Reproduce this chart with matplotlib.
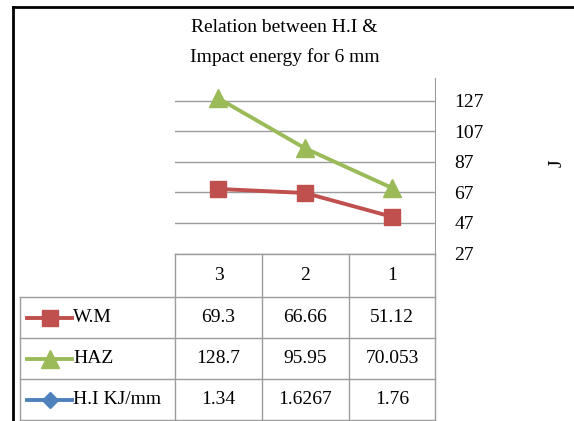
import matplotlib
matplotlib.use("Agg")
import matplotlib.pyplot as plt
from matplotlib.lines import Line2D

# chart data
categories = ["3", "2", "1"]
wm_values = [69.3, 66.66, 51.12]
haz_values = [128.7, 95.95, 70.053]
hi_values = [1.34, 1.6267, 1.76]
wm_labels = ["69.3", "66.66", "51.12"]
haz_labels = ["128.7", "95.95", "70.053"]
hi_labels = ["1.34", "1.6267", "1.76"]
series_names = ["W.M", "HAZ", "H.I KJ/mm"]
y_ticks = [27, 47, 67, 87, 107, 127]

W, H = 574, 421
plt.rcParams['font.family'] = ['Liberation Serif', 'DejaVu Serif']
FS = 14
GRAY = '#9c9c9c'
colors = ['#C0504D', '#9BBB59', '#4F81BD']
markers = ['s', '^', 'D']
msizes = [11, 12.5, 8]
LW = 2.8

fig = plt.figure(figsize=(W / 100, H / 100), dpi=100)


def fx(px):
    return px / W


def fy(py):
    return 1 - py / H


def hline(y, x0, x1, color=GRAY, lw=1.0):
    fig.add_artist(Line2D([fx(x0), fx(x1)], [fy(y), fy(y)], color=color, lw=lw,
                          transform=fig.transFigure))


def vline(x, y0, y1, color=GRAY, lw=1.0):
    fig.add_artist(Line2D([fx(x), fx(x)], [fy(y0), fy(y1)], color=color, lw=lw,
                          transform=fig.transFigure))


# plot area
ax_l, ax_r, ax_t, ax_b = 175, 435, 78, 253.5
ax = fig.add_axes([fx(ax_l), fy(ax_b), fx(ax_r - ax_l), fy(ax_t) - fy(ax_b)])
x = range(len(categories))
ax.plot(x, wm_values, color=colors[0], lw=LW, marker=markers[0], ms=msizes[0])
ax.plot(x, haz_values, color=colors[1], lw=LW, marker=markers[1], ms=msizes[1])
ax.set_xlim(-0.5, len(categories) - 0.5)
ax.set_ylim(27, 142)
ax.set_yticks(y_ticks)
ax.yaxis.tick_right()
ax.yaxis.set_label_position('right')
ax.tick_params(axis='y', length=0, pad=14, labelsize=FS)
ax.set_xticks([])
ax.grid(axis='y', color=GRAY, lw=1)
ax.set_axisbelow(True)
for s in ['left', 'top', 'bottom']:
    ax.spines[s].set_visible(False)
ax.spines['right'].set_color(GRAY)
ax.patch.set_alpha(0)

fig.text(fx(557), fy(163), "J", rotation=90, ha='center', va='center', fontsize=FS)

# title
fig.text(fx(284), fy(27), "Relation between H.I &", ha='center', va='center', fontsize=FS)
fig.text(fx(285), fy(57), "Impact energy for 6 mm", ha='center', va='center', fontsize=FS)

# data table
col_x = [175, 262, 349, 435]
row_y = [253.5, 297, 338, 379, 420]
hline(row_y[0], col_x[0], col_x[-1])
for y in row_y[1:]:
    hline(y, 20, col_x[-1])
for cx in col_x:
    vline(cx, row_y[0], row_y[-1])
vline(20, row_y[1], row_y[-1])

for i, c in enumerate(categories):
    fig.text(fx((col_x[i] + col_x[i + 1]) / 2), fy((row_y[0] + row_y[1]) / 2), c,
             ha='center', va='center', fontsize=FS)

rows = [wm_labels, haz_labels, hi_labels]
for r, labels in enumerate(rows):
    yc = (row_y[r + 1] + row_y[r + 2]) / 2
    fig.add_artist(Line2D([fx(27), fx(72)], [fy(yc), fy(yc)], color=colors[r], lw=LW,
                          transform=fig.transFigure))
    fig.add_artist(Line2D([fx(50)], [fy(yc)], color=colors[r], marker=markers[r],
                          ms=msizes[r], transform=fig.transFigure))
    fig.text(fx(73), fy(yc), series_names[r], ha='left', va='center', fontsize=FS)
    for i, lab in enumerate(labels):
        fig.text(fx((col_x[i] + col_x[i + 1]) / 2), fy(yc), lab,
                 ha='center', va='center', fontsize=FS)

# outer chart border (left and top visible)
hline(7, 13, W, color='black', lw=2)
vline(13, 7, H, color='black', lw=2)

fig.savefig("out.png", dpi=100)
